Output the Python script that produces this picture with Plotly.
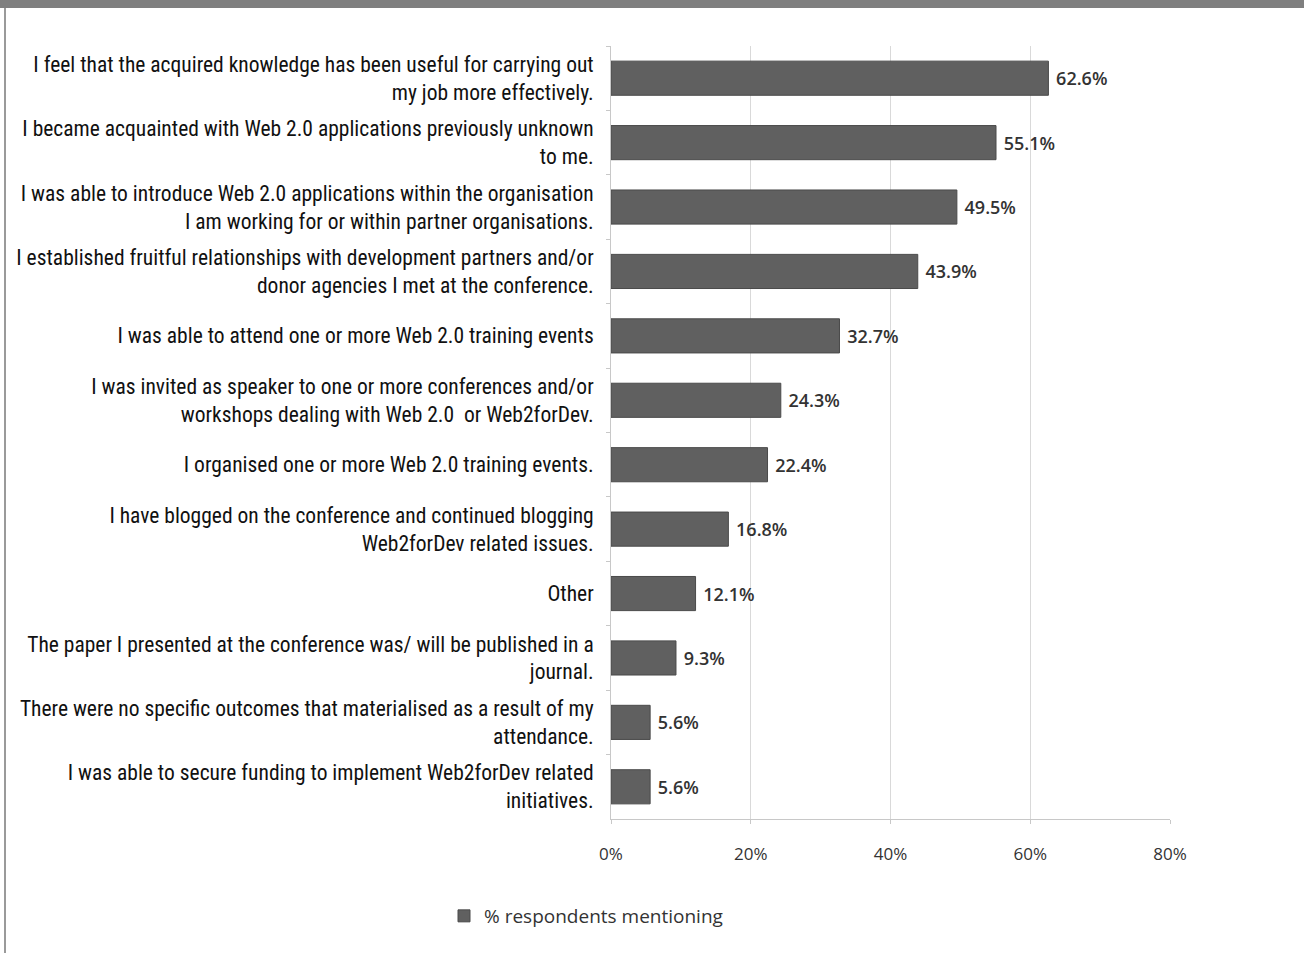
import plotly.graph_objects as go

categories = [
    "I feel that the acquired knowledge has been useful for carrying out<br>my job more effectively.",
    "I became acquainted with Web 2.0 applications previously unknown<br>to me.",
    "I was able to introduce Web 2.0 applications within the organisation<br>I am working for or within partner organisations.",
    "I established fruitful relationships with development partners and/or<br>donor agencies I met at the conference.",
    "I was able to attend one or more Web 2.0 training events",
    "I was invited as speaker to one or more conferences and/or<br>workshops dealing with Web 2.0  or Web2forDev.",
    "I organised one or more Web 2.0 training events.",
    "I have blogged on the conference and continued blogging<br>Web2forDev related issues.",
    "Other",
    "The paper I presented at the conference was/ will be published in a<br>journal.",
    "There were no specific outcomes that materialised as a result of my<br>attendance.",
    "I was able to secure funding to implement Web2forDev related<br>initiatives.",
]
values = [62.6, 55.1, 49.5, 43.9, 32.7, 24.3, 22.4, 16.8, 12.1, 9.3, 5.6, 5.6]
labels = ["62.6%", "55.1%", "49.5%", "43.9%", "32.7%", "24.3%", "22.4%", "16.8%", "12.1%", "9.3%", "5.6%", "5.6%"]
x_tickvals = [0, 20, 40, 60, 80]
x_ticktext = ["0%", "20%", "40%", "60%", "80%"]
series_name = "% respondents mentioning"

label_font = "Liberation Sans Narrow, Arial Narrow, Roboto Condensed, sans-serif"
num_font = "Open Sans, Lato, sans-serif"

fig = go.Figure()
fig.add_trace(go.Bar(
    y=categories,
    x=values,
    orientation="h",
    name=series_name,
    text=[" " + t for t in labels],
    textposition="outside",
    textfont=dict(family=num_font, size=18, color="#333333", weight=600),
    cliponaxis=False,
    marker=dict(color="#606060", line=dict(color="#4a4a4a", width=1)),
    showlegend=True,
))

L, T, R, B = 611, 46, 134, 134
W, H = 1304, 953
pw = W - L - R
ph = H - T - B

def px_x(p):
    return (p - L) / pw

def px_y(p):
    return (H - B - p) / ph

fig.update_layout(
    width=W, height=H,
    margin=dict(l=L, r=R, t=T, b=B, autoexpand=False),
    paper_bgcolor="white",
    plot_bgcolor="white",
    bargap=0.47,
    font=dict(family=num_font, size=16, color="#333333"),
    legend=dict(
        orientation="h",
        x=px_x(444), xanchor="left",
        y=px_y(916), yanchor="middle",
        font=dict(family=num_font, size=19, color="#333333"),
        itemwidth=30,
        bgcolor="rgba(0,0,0,0)",
    ),
    xaxis=dict(
        range=[0, 80],
        tickvals=x_tickvals,
        ticktext=x_ticktext,
        showgrid=True,
        gridcolor="#d9d9d9",
        gridwidth=1,
        showline=True,
        linecolor="#c8c8c8",
        linewidth=1,
        ticks="outside",
        ticklen=4,
        tickcolor="#c8c8c8",
        ticklabelstandoff=16,
        tickfont=dict(family=num_font, size=17, color="#333333"),
        zeroline=False,
        fixedrange=True,
    ),
    yaxis=dict(
        categoryorder="array",
        categoryarray=categories,
        autorange="reversed",
        showline=True,
        linecolor="#c8c8c8",
        linewidth=1,
        ticks="outside",
        tickson="boundaries",
        ticklen=4,
        tickcolor="#c8c8c8",
        ticklabelstandoff=12,
        tickfont=dict(family=label_font, size=21.5, color="#111111"),
        showgrid=False,
        fixedrange=True,
    ),
    shapes=[
        dict(type="rect", xref="paper", yref="paper",
             x0=px_x(0), x1=px_x(W), y0=px_y(8), y1=px_y(0),
             fillcolor="#7f7f7f", line=dict(width=0), layer="above"),
        dict(type="line", xref="paper", yref="paper",
             x0=px_x(5), x1=px_x(5), y0=px_y(8), y1=px_y(H),
             line=dict(color="#9a9a9a", width=2)),
    ],
)

fig.write_html(
    "out.html",
    config={"displayModeBar": False},
    post_script="document.body.style.margin='0';",
)
